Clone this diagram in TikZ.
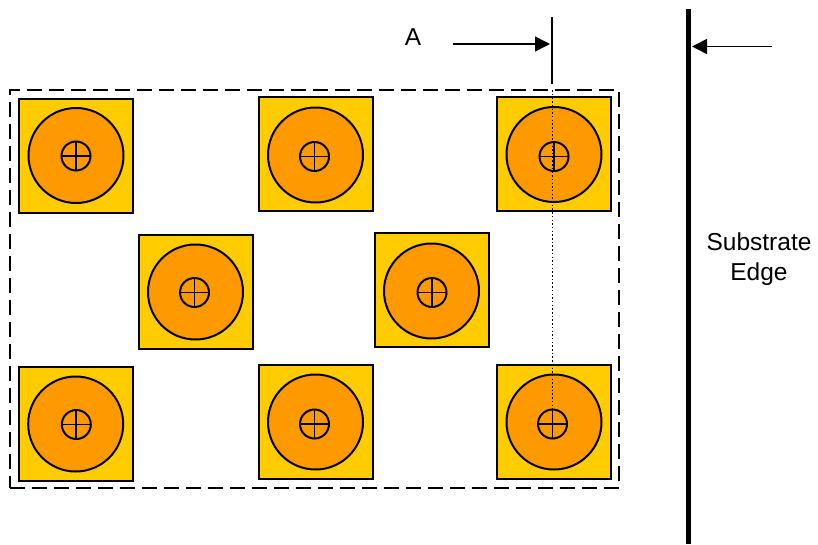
\documentclass[tikz,border=0pt]{standalone}
\usepackage{fontspec}
\setmainfont{Liberation Sans}
\usetikzlibrary{arrows.meta}
\definecolor{padc}{HTML}{FFCC00}
\definecolor{ballc}{HTML}{FF9900}
\tikzset{
  x=1pt,y=-1pt,
  padbox/.style={draw=black,line width=2pt,fill=padc,minimum size=114pt,inner sep=0pt,outer sep=0pt},
  ballc/.style={draw=black,line width=2pt,fill=ballc,circle,minimum size=95pt,inner sep=0pt,outer sep=0pt},
  holec/.style={draw=black,line width=2pt,circle,minimum size=29pt,inner sep=0pt,outer sep=0pt},
  crossl/.style={black,line width=1.8pt},
  arr/.style={line width=1.5pt,-{Triangle[length=15pt,width=15pt]},shorten >=0pt},
  lbl/.style={font=\fontsize{24.5}{30}\selectfont,align=center,inner sep=0pt},
}
\newcommand{\padunit}[7]{%
  \node[padbox] (p#1) at (#2,#3) {};
  \node[ballc] (b#1) at (#4,#5) {};
  \node[holec] (h#1) at (#6,#7) {};
  \draw[crossl] (h#1.north) -- (h#1.south);
  \draw[crossl] (h#1.west) -- (h#1.east);
}
\begin{document}
\begin{tikzpicture}
\useasboundingbox (0,0) rectangle (818,544);
\padunit{a}{75.5}{155.5}{76}{155.5}{76}{156}
\padunit{b}{315.5}{153.5}{315.5}{155}{314.5}{156.5}
\padunit{c}{553.5}{153.5}{554}{154.5}{554}{156.5}
\padunit{d}{195.5}{291.5}{195.5}{292}{194.5}{292.5}
\padunit{e}{431.5}{289.5}{431.5}{291}{432}{292.5}
\padunit{f}{75.5}{423.5}{75.7}{424}{76.3}{424.5}
\padunit{g}{315.5}{421.5}{315.5}{422}{314.5}{424}
\padunit{h}{553.5}{421.5}{554}{422}{552.5}{424}
\node[draw=black,line width=2pt,dash pattern=on 15pt off 7pt,minimum width=609pt,minimum height=398pt,inner sep=0pt] (frame) at (314.5,288.5) {};
\coordinate (tickT) at (552,17);
\coordinate (tickB) at (552,84);
\draw[line width=1.5pt] (tickT) -- (tickB);
\coordinate (dotT) at (552.5,90);
\coordinate (dotB) at (552.5,410);
\draw[line width=1.5pt,dash pattern=on 1.5pt off 2.2pt] (dotT) -- (dotB);
\coordinate (arrA) at (453,44);
\coordinate (arrAe) at (550,44);
\draw[arr] (arrA) -- (arrAe);
\node[lbl] (labA) at (413,37.5) {A};
\coordinate (edgeT) at (688.5,9);
\coordinate (edgeB) at (688.5,544);
\draw[line width=5.5pt] (edgeT) -- (edgeB);
\coordinate (arrS) at (772,46.5);
\coordinate (arrSe) at (692,46.5);
\draw[arr] (arrS) -- (arrSe);
\node[lbl] (labS) at (759,259) {Substrate\\Edge};
\end{tikzpicture}
\end{document}
